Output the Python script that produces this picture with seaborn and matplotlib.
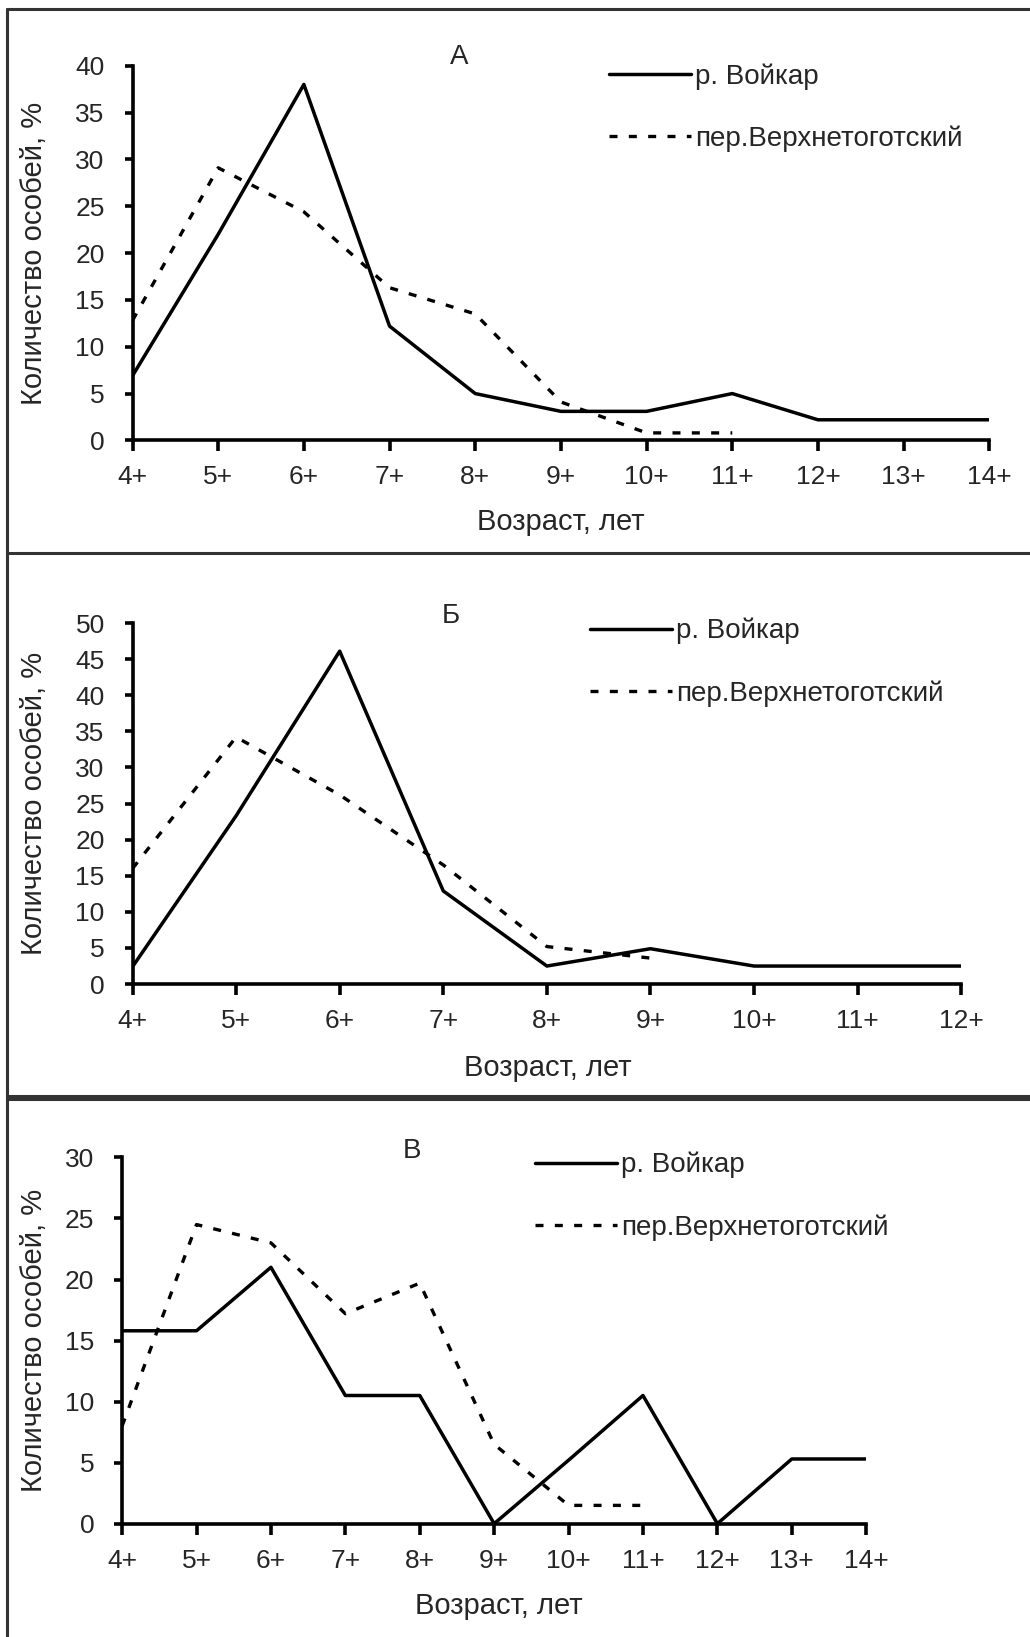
import matplotlib
matplotlib.use("Agg")
import matplotlib.pyplot as plt
from matplotlib.lines import Line2D
import seaborn as sns
import pandas as pd

sns.set_theme(style="white")
plt.rcParams['font.family'] = ['Liberation Sans', 'DejaVu Sans']

# ---- data ----
ages_14 = ['4+', '5+', '6+', '7+', '8+', '9+', '10+', '11+', '12+', '13+', '14+']
ages_12 = ['4+', '5+', '6+', '7+', '8+', '9+', '10+', '11+', '12+']

a_voikar = [6.9, 22, 38, 12.2, 5, 3.1, 3.1, 5, 2.2, 2.2, 2.2]
a_verkh = [12.8, 29.1, 24.4, 16.3, 13.5, 4.1, 0.8, 0.8]

b_voikar = [2.4, 23.3, 46.1, 12.9, 2.5, 4.9, 2.5, 2.5, 2.5]
b_verkh = [16, 34.2, 26.2, 16.5, 5.2, 3.6]

c_voikar = [15.8, 15.8, 21, 10.5, 10.5, 0, 5.2, 10.5, 0, 5.3, 5.3]
c_verkh = [8, 24.5, 23, 17.2, 19.7, 6.5, 1.5, 1.5]

series_names = ['р. Войкар', 'пер.Верхнетоготский']
panel_titles = ['А', 'Б', 'В']
xlabel = 'Возраст, лет'
ylabel = 'Количество особей, %'

W, H = 1030, 1637
fig = plt.figure(figsize=(W / 100, H / 100), dpi=100)


def fx(px):
    return px / W


def fy(py):
    return 1 - py / H


panels = [
    dict(cats=ages_14, s1=a_voikar, s2=a_verkh, ymax=40, ystep=5,
         box=(132.5, 989.3, 65.7, 440.4), title=(459, 57),
         leg=(609, 75), xlab=(561, 522), ylab_x=34),
    dict(cats=ages_12, s1=b_voikar, s2=b_verkh, ymax=50, ystep=5,
         box=(132.5, 961.2, 623.0, 984.1), title=(451, 616),
         leg=(590, 630), xlab=(548, 1068), ylab_x=34),
    dict(cats=ages_14, s1=c_voikar, s2=c_verkh, ymax=30, ystep=5,
         box=(122.1, 866.2, 1157.4, 1523.7), title=(412, 1151),
         leg=(535, 1164), xlab=(499, 1606), ylab_x=34),
]

dot_style = (0, (2.4, 3.4))
FS_TICK = 19
FS_LAB = 21
FS_LEG = 20

for i, p in enumerate(panels):
    x0, x1, yt, yb = p['box']
    ax = fig.add_axes([fx(x0), fy(yb), fx(x1) - fx(x0), fy(yt) - fy(yb)])
    d1 = pd.DataFrame({'x': range(len(p['s1'])), 'y': p['s1']})
    d2 = pd.DataFrame({'x': range(len(p['s2'])), 'y': p['s2']})
    sns.lineplot(data=d1, x='x', y='y', ax=ax, color='black', lw=2.5)
    sns.lineplot(data=d2, x='x', y='y', ax=ax, color='black', lw=2.4,
                 linestyle=dot_style)
    n = len(p['cats'])
    ax.set_xlim(0, n - 1)
    ax.set_ylim(0, p['ymax'])
    ax.set_xticks(range(n))
    ax.set_xticklabels(p['cats'])
    ax.set_yticks(range(0, p['ymax'] + 1, p['ystep']))
    for s in ['top', 'right']:
        ax.spines[s].set_visible(False)
    for s in ['left', 'bottom']:
        ax.spines[s].set_color('black')
        ax.spines[s].set_linewidth(2.6)
    ax.tick_params(axis='x', direction='out', length=8, width=2.6,
                   color='black', labelsize=FS_TICK, pad=10, bottom=True)
    ax.tick_params(axis='y', direction='out', length=6, width=2.6,
                   color='black', labelsize=FS_TICK, pad=14, left=True)
    ax.set_xlabel('')
    ax.set_ylabel('')
    ax.grid(False)
    ax.patch.set_alpha(0)

    # axis labels
    fig.text(fx(p['xlab'][0]), fy(p['xlab'][1]), xlabel,
             ha='center', va='center', fontsize=FS_LAB)
    fig.text(fx(p['ylab_x']), fy((yt + yb) / 2), ylabel, rotation=90,
             ha='center', va='center', fontsize=FS_LAB)
    # title
    fig.text(fx(p['title'][0]), fy(p['title'][1]), panel_titles[i],
             ha='center', va='center', fontsize=FS_LEG)
    # legend
    handles = [Line2D([], [], color='black', lw=2.5),
               Line2D([], [], color='black', lw=2.4, linestyle=dot_style)]
    ax.legend(handles, series_names, loc='upper left',
              bbox_to_anchor=(fx(p['leg'][0]), fy(p['leg'][1] - 12)),
              bbox_transform=fig.transFigure, frameon=False, fontsize=FS_LEG,
              handlelength=2.95, handletextpad=0.15, labelspacing=1.3,
              borderpad=0, borderaxespad=0)

# panel frame lines
line_kw = dict(color='#333333', lw=2.2, transform=fig.transFigure)
fig.add_artist(Line2D([fx(7), 1], [fy(9), fy(9)], **line_kw))
fig.add_artist(Line2D([fx(7), fx(7)], [fy(9), 0], **line_kw))
fig.add_artist(Line2D([fx(7), 1], [fy(553), fy(553)], **line_kw))
fig.add_artist(Line2D([fx(7), 1], [fy(1096), fy(1096)], **line_kw))
fig.add_artist(Line2D([fx(7), 1], [fy(1099), fy(1099)], **line_kw))

fig.savefig('out.png', dpi=100, facecolor='white')
